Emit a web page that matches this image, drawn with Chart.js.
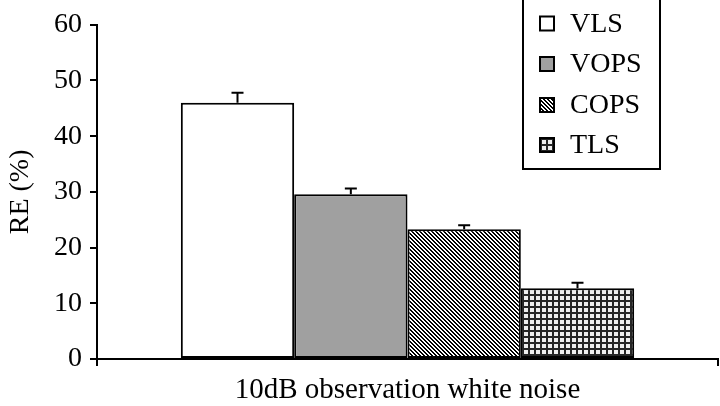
<!DOCTYPE html>
<html>
<head>
<meta charset="utf-8">
<script src="https://cdn.jsdelivr.net/npm/chart.js@4.4.1/dist/chart.umd.min.js"></script>
<style>
  html, body { margin: 0; padding: 0; background: #fff; }
  #wrap { width: 720px; height: 406px; position: relative; }
</style>
</head>
<body>
<div id="wrap"><canvas id="reChart"></canvas></div>
<script>
// chart data
const categories = ['10dB observation white noise'];
const methods = ['VLS', 'VOPS', 'COPS', 'TLS'];
const reValues = [46.0, 29.6, 23.3, 12.7];
const reErrors = [1.8, 1.0, 0.7, 1.0];
const yTicks = [0, 10, 20, 30, 40, 50, 60];

const serif = '"Liberation Serif", "Times New Roman", serif';

// fill patterns for bars
const makeTile = (w, h, paint) => {
  const c = document.createElement('canvas');
  c.width = w; c.height = h;
  paint(c.getContext('2d'));
  return c;
};
const tmp = document.createElement('canvas').getContext('2d');

const hatchTile = makeTile(4, 4, (ctx) => {
  const img = ctx.createImageData(4, 4);
  for (let y = 0; y < 4; y++) {
    for (let x = 0; x < 4; x++) {
      const on = ((x - y + 8) % 4) < 2;
      const v = on ? 0 : 255;
      const i = (y * 4 + x) * 4;
      img.data[i] = img.data[i + 1] = img.data[i + 2] = v;
      img.data[i + 3] = 255;
    }
  }
  ctx.putImageData(img, 0, 0);
});

const gridTile = makeTile(6, 6, (ctx) => {
  ctx.fillStyle = '#eeeeee';
  ctx.fillRect(0, 0, 6, 6);
  ctx.fillStyle = '#262626';
  ctx.fillRect(0, 0, 2, 6);
  ctx.fillRect(0, 0, 6, 2);
});

const fills = [
  '#ffffff',
  '#a0a0a0',
  tmp.createPattern(hatchTile, 'repeat'),
  tmp.createPattern(gridTile, 'repeat')
];

// error bars + boxed legend on top of the plot
const extras = {
  id: 'extras',
  afterDatasetsDraw(chart) {
    const { ctx, scales: { y } } = chart;
    ctx.save();
    ctx.strokeStyle = '#000';
    ctx.lineWidth = 2;
    reValues.forEach((v, i) => {
      const bar = chart.getDatasetMeta(i).data[0];
      const top = y.getPixelForValue(v + reErrors[i]);
      const base = y.getPixelForValue(v);
      ctx.beginPath();
      ctx.moveTo(bar.x, base);
      ctx.lineTo(bar.x, top);
      ctx.moveTo(bar.x - 6, top);
      ctx.lineTo(bar.x + 6, top);
      ctx.stroke();
    });
    ctx.restore();
  },
  afterDraw(chart) {
    const { ctx } = chart;
    ctx.save();
    ctx.fillStyle = '#fff';
    ctx.fillRect(523, -1, 137, 170);
    ctx.strokeStyle = '#000';
    ctx.lineWidth = 2;
    ctx.strokeRect(523, -1, 137, 170);
    const rows = [23.5, 64, 105, 145];
    ctx.font = '28px ' + serif;
    ctx.textBaseline = 'middle';
    methods.forEach((name, i) => {
      ctx.fillStyle = fills[i];
      ctx.fillRect(540, rows[i] - 7, 14, 14);
      ctx.lineWidth = 2;
      ctx.strokeRect(540, rows[i] - 7, 14, 14);
      ctx.fillStyle = '#000';
      ctx.fillText(name, 570, rows[i] + 1);
    });
    ctx.restore();
  }
};

new Chart(document.getElementById('reChart'), {
  type: 'bar',
  data: {
    labels: categories,
    datasets: methods.map((name, i) => ({
      label: name,
      data: [reValues[i]],
      backgroundColor: fills[i],
      borderColor: '#000',
      borderWidth: 2,
      borderSkipped: false
    }))
  },
  options: {
    responsive: true,
    maintainAspectRatio: false,
    animation: false,
    layout: { padding: { top: 21, right: 2, bottom: 0, left: 0 } },
    datasets: { bar: { barPercentage: 1, categoryPercentage: 0.73 } },
    plugins: { legend: { display: false }, tooltip: { enabled: false } },
    scales: {
      x: {
        offset: true,
        afterFit(scale) { scale.height = 47; },
        grid: { drawOnChartArea: false, offset: true, color: '#000', lineWidth: 2, tickLength: 7 },
        border: { color: '#000', width: 2 },
        ticks: { color: '#000', padding: 8, font: { family: serif, size: 29, lineHeight: 1.1 } }
      },
      y: {
        min: 0,
        max: 60,
        afterFit(scale) { scale.width = 97; },
        afterBuildTicks(scale) { scale.ticks = yTicks.map(v => ({ value: v })); },
        grid: { drawOnChartArea: false, color: '#000', lineWidth: 2, tickLength: 7 },
        border: { color: '#000', width: 2 },
        ticks: { color: '#000', padding: 8, font: { family: serif, size: 28 } },
        title: {
          display: true,
          text: 'RE (%)',
          color: '#000',
          padding: { top: 4, bottom: 0 },
          font: { family: serif, size: 28 }
        }
      }
    }
  },
  plugins: [extras]
});
</script>
</body>
</html>
